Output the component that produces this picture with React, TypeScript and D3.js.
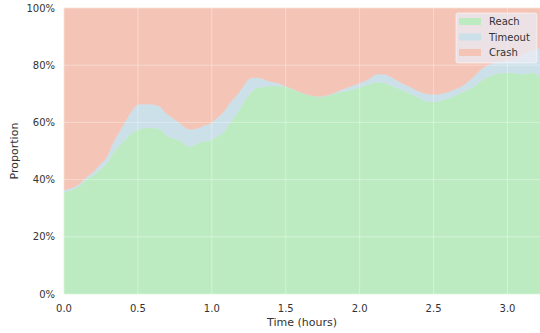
import React from "react";
import * as d3 from "d3";

const timeHours = [0.0, 0.06, 0.11, 0.15, 0.2, 0.24, 0.29, 0.33, 0.38, 0.42, 0.47, 0.51, 0.56, 0.6, 0.65, 0.69, 0.74, 0.78, 0.85, 0.9, 0.94, 0.99, 1.03, 1.08, 1.12, 1.17, 1.21, 1.26, 1.3, 1.35, 1.39, 1.44, 1.48, 1.53, 1.59, 1.66, 1.73, 1.8, 1.86, 1.93, 2.0, 2.07, 2.11, 2.16, 2.22, 2.29, 2.34, 2.41, 2.47, 2.52, 2.56, 2.63, 2.7, 2.77, 2.83, 2.9, 2.97, 3.04, 3.1, 3.17, 3.22];
const reach = [35.8, 36.6, 38.1, 40.1, 41.6, 43.4, 45.7, 49.2, 52.1, 54.4, 56.7, 57.7, 58.1, 58.1, 57.6, 55.6, 54.4, 53.8, 51.5, 52.7, 53.3, 53.8, 55.0, 56.7, 59.7, 63.2, 66.7, 70.2, 71.9, 72.5, 72.7, 72.7, 72.6, 71.9, 70.7, 69.6, 69.0, 69.6, 70.5, 71.3, 72.3, 73.4, 74.0, 73.9, 72.7, 71.3, 70.2, 68.4, 67.2, 67.2, 67.8, 69.0, 70.7, 72.5, 74.8, 76.6, 77.3, 77.4, 76.9, 77.4, 76.0];
const timeout = [0.6, 0.6, 0.6, 0.7, 1.2, 1.7, 2.3, 3.5, 5.2, 6.4, 8.2, 8.7, 8.3, 8.2, 7.9, 7.6, 7.0, 6.1, 6.1, 5.2, 5.5, 5.8, 6.4, 7.0, 7.0, 6.4, 5.8, 5.2, 3.8, 2.7, 1.7, 1.2, 0.5, 0.2, 0.1, 0.0, 0.1, 0.2, 0.6, 1.2, 1.4, 2.0, 2.8, 3.0, 3.0, 2.3, 2.3, 2.3, 2.7, 2.6, 2.3, 2.3, 2.3, 3.5, 4.1, 4.2, 4.2, 4.7, 6.6, 7.9, 10.0];
const crash = [63.6, 62.8, 61.3, 59.2, 57.2, 54.9, 52.0, 47.3, 42.7, 39.2, 35.1, 33.6, 33.6, 33.7, 34.5, 36.8, 38.6, 40.1, 42.4, 42.1, 41.2, 40.4, 38.6, 36.3, 33.3, 30.4, 27.5, 24.6, 24.3, 24.8, 25.6, 26.1, 26.9, 27.9, 29.2, 30.4, 30.9, 30.2, 28.9, 27.5, 26.3, 24.6, 23.2, 23.1, 24.3, 26.4, 27.5, 29.3, 30.1, 30.2, 29.9, 28.7, 27.0, 24.0, 21.1, 19.2, 18.5, 17.9, 16.5, 14.7, 14.0];

const seriesNames = ["Reach", "Timeout", "Crash"];
const seriesColors = ["#bdebc1", "#cce0e9", "#f4c4b6"];
const xTicks = [0, 0.5, 1.0, 1.5, 2.0, 2.5, 3.0];
const yTicks = [0, 20, 40, 60, 80, 100];

const W = 540;
const H = 333;
const M = { left: 64, right: 0, top: 8, bottom: 39 };
const FONT = "DejaVu Sans, sans-serif";
const TEXT = "#333333";

export default function App() {
  const rows = timeHours.map((t, i) => ({ t, Reach: reach[i], Timeout: timeout[i], Crash: crash[i] }));
  const x = d3.scaleLinear().domain([0, timeHours[timeHours.length - 1]]).range([M.left, W - M.right]);
  const y = d3.scaleLinear().domain([0, 100]).range([H - M.bottom, M.top]);
  const stack = d3.stack<any>().keys(seriesNames);
  const layers = stack(rows);
  const area = d3
    .area<any>()
    .x((d) => x(d.data.t))
    .y0((d) => y(d[0]))
    .y1((d) => y(d[1]))
    .curve(d3.curveMonotoneX);

  const x0 = M.left, x1 = W - M.right, yTop = M.top, yBot = H - M.bottom;
  const legX = 456, legY = 13, legW = 81, legH = 50;

  return (
    <svg width={W} height={H} style={{ position: "absolute", left: 0, top: 0, display: "block" }} fontFamily={FONT}>
      <rect x={0} y={0} width={W} height={H} fill="#ffffff" />
      <rect x={x0} y={yTop} width={x1 - x0} height={yBot - yTop} fill="#eaeaf2" />
      {layers.map((layer, i) => (
        <path key={seriesNames[i]} d={area(layer) || ""} fill={seriesColors[i]} stroke={seriesColors[i]} strokeWidth={0.5} />
      ))}
      {yTicks.map((v) => (
        <line key={"gy" + v} x1={x0} x2={x1} y1={y(v)} y2={y(v)} stroke="#ffffff" strokeOpacity={0.35} strokeWidth={1} />
      ))}
      {xTicks.map((v) => (
        <line key={"gx" + v} x1={x(v)} x2={x(v)} y1={yTop} y2={yBot} stroke="#ffffff" strokeOpacity={0.35} strokeWidth={1} />
      ))}
      {yTicks.map((v) => (
        <text key={"ty" + v} x={x0 - 9} y={y(v)} dy="0.35em" textAnchor="end" fontSize={10} fill={TEXT}>
          {v + "%"}
        </text>
      ))}
      {xTicks.map((v) => (
        <text key={"tx" + v} x={x(v)} y={yBot + 14} dy="0.35em" textAnchor="middle" fontSize={10} fill={TEXT}>
          {v.toFixed(1)}
        </text>
      ))}
      <text x={(x0 + x1) / 2} y={yBot + 28} dy="0.35em" textAnchor="middle" fontSize={11} fill={TEXT}>
        Time (hours)
      </text>
      <text transform={`translate(14,${(yTop + yBot) / 2}) rotate(-90)`} dy="0.35em" textAnchor="middle" fontSize={11} fill={TEXT}>
        Proportion
      </text>
      <g>
        <rect x={legX} y={legY} width={legW} height={legH} rx={2} fill="#eaeaf2" fillOpacity={0.8} stroke="#ffffff" strokeOpacity={0.5} strokeWidth={1} />
        {seriesNames.map((name, i) => (
          <g key={"leg" + name} transform={`translate(${legX + 3},${legY + 8.5 + i * 15.5})`}>
            <rect x={0} y={-3.5} width={22} height={7} fill={seriesColors[i]} />
            <text x={30} y={0} dy="0.35em" fontSize={10} fill={TEXT}>
              {name}
            </text>
          </g>
        ))}
      </g>
    </svg>
  );
}
